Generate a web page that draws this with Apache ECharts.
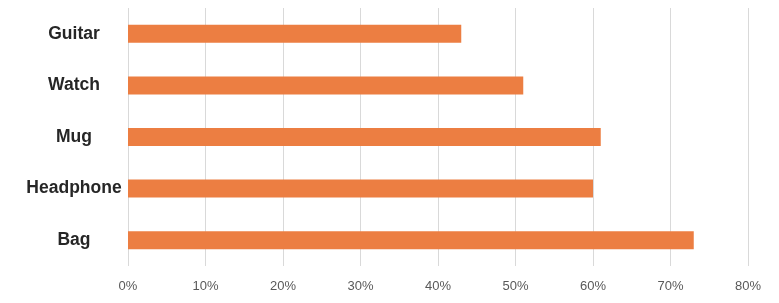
<!DOCTYPE html>
<html>
<head>
<meta charset="utf-8">
<script src="https://cdn.jsdelivr.net/npm/echarts@6/dist/echarts.min.js"></script>
<style>html,body{margin:0;padding:0;background:#fff}#c{width:779px;height:303px}</style>
</head>
<body>
<div id="c"></div>
<script>
const categories = ['Bag', 'Headphone', 'Mug', 'Watch', 'Guitar'];
const values = [73, 60, 61, 51, 43];
const tickLabels = ['0%', '10%', '20%', '30%', '40%', '50%', '60%', '70%', '80%'];

const chart = echarts.init(document.getElementById('c'));
chart.setOption({
  animation: false,
  backgroundColor: '#ffffff',
  grid: { left: 128, right: 31, top: 8, height: 258 },
  xAxis: {
    type: 'value', min: 0, max: 80, interval: 10,
    axisLine: { show: false }, axisTick: { show: false },
    splitLine: { show: true, lineStyle: { color: '#d9d9d9', width: 1 } },
    axisLabel: {
      margin: 14, color: '#595959', fontSize: 13, fontFamily: 'Liberation Sans',
      formatter: v => tickLabels[Math.round(v / 10)]
    }
  },
  yAxis: {
    type: 'category', data: categories,
    axisLine: { show: false }, axisTick: { show: false },
    axisLabel: {
      align: 'center', margin: 54, color: '#262626', fontSize: 17.5,
      fontWeight: 'bold', fontFamily: 'Liberation Sans'
    }
  },
  series: [{
    type: 'bar', data: values, barWidth: 18,
    itemStyle: { color: '#EC7E42' }
  }]
});
</script>
</body>
</html>
